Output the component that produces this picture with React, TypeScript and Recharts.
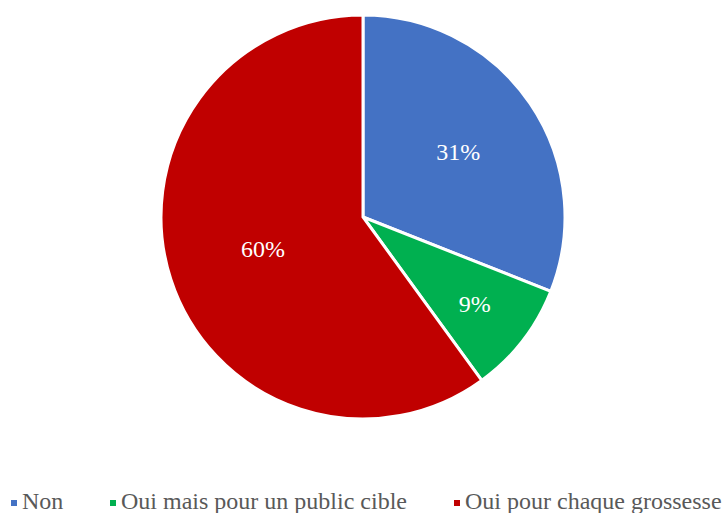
import { Cell, Legend, Pie, PieChart } from "recharts";

const categories = ["Non", "Oui mais pour un public cible", "Oui pour chaque grossesse"];
const values = [31, 9, 60];
const colors = ["#4472C4", "#00B050", "#C00000"];

const data = categories.map((name, i) => ({ name, value: values[i] }));

// label distance from centre, as a share of the radius (Excel puts them a bit unevenly)
const labelShare = [0.57, 0.7, 0.52];

const RAD = Math.PI / 180;
const FONT = "'Liberation Serif', 'Times New Roman', Times, serif";

function SliceLabel({ cx, cy, midAngle, outerRadius, index, value }: any) {
  const r = outerRadius * labelShare[index];
  const x = cx + r * Math.cos(-midAngle * RAD);
  const y = cy + r * Math.sin(-midAngle * RAD);
  return (
    <text
      x={x}
      y={y}
      fill="#ffffff"
      fontSize={24}
      fontFamily={FONT}
      textAnchor="middle"
      dominantBaseline="central"
    >
      {value}%
    </text>
  );
}

const legendX = [11, 110, 454];

function LegendContent() {
  return (
    <div style={{ position: "relative", height: 26, width: 726 }}>
      {categories.map((c, i) => (
        <div
          key={c}
          style={{
            position: "absolute",
            left: legendX[i],
            top: 0,
            display: "flex",
            alignItems: "center",
            whiteSpace: "nowrap",
            fontFamily: FONT,
            fontSize: 24,
            lineHeight: "24px",
            color: "#595959",
          }}
        >
          <span style={{ width: 6, height: 6, background: colors[i], marginRight: 5, marginTop: 4 }} />
          {c}
        </div>
      ))}
    </div>
  );
}

export default function App() {
  return (
    <div style={{ position: "absolute", left: 0, top: 0, width: 726, height: 513, background: "#fff", overflow: "hidden" }}>
      <PieChart width={726} height={513} margin={{ top: 0, right: 0, bottom: 0, left: 0 }}>
        <Pie
          data={data}
          dataKey="value"
          nameKey="name"
          cx={363}
          cy={217}
          outerRadius={202}
          startAngle={90}
          endAngle={-270}
          stroke="#ffffff"
          strokeWidth={3}
          label={<SliceLabel />}
          labelLine={false}
          isAnimationActive={false}
        >
          {data.map((d, i) => (
            <Cell key={d.name} fill={colors[i]} />
          ))}
        </Pie>
        <Legend
          content={<LegendContent />}
          wrapperStyle={{ position: "absolute", left: 0, top: 489, width: 726 }}
        />
      </PieChart>
    </div>
  );
}
